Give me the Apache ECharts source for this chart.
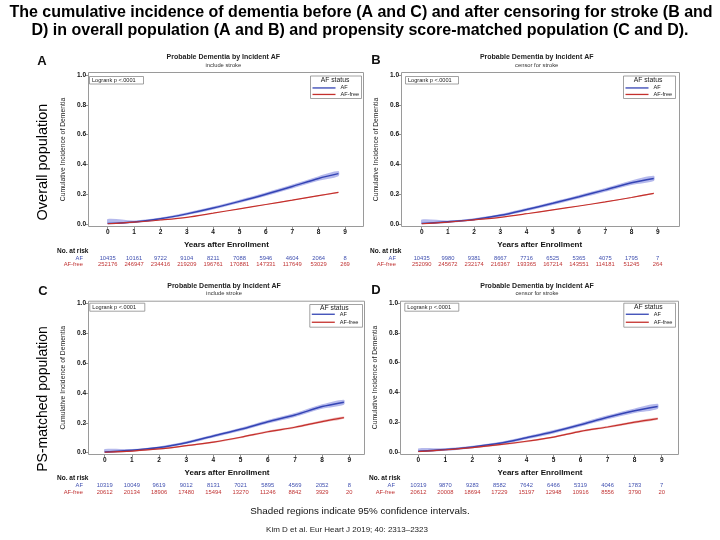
<!DOCTYPE html>
<html><head><meta charset="utf-8">
<script src="https://cdn.jsdelivr.net/npm/echarts@6/dist/echarts.min.js"></script>
<style>html,body{margin:0;padding:0;background:#fff}#c{width:720px;height:540px}</style>
</head><body><div id="c"></div>
<script>
// ---------- data ----------
const yearTicks = [0,1,2,3,4,5,6,7,8,9];
const panelLetters = ['A','B','C','D'];
const panelTitle = 'Probable Dementia by Incident AF';
const panelSubtitles = ['include stroke','censor for stroke','include stroke','censor for stroke'];

const tA = [0, 1, 2, 3, 4, 5, 6, 7, 8, 8.75];
const afA = [0.003, 0.014, 0.035, 0.068, 0.107, 0.152, 0.200, 0.252, 0.306, 0.338];
const afLoA = [0.000, 0.006, 0.027, 0.059, 0.097, 0.141, 0.188, 0.239, 0.291, 0.321];
const afHiA = [0.034, 0.024, 0.043, 0.077, 0.117, 0.163, 0.212, 0.265, 0.321, 0.355];
const freeA = [0.001, 0.012, 0.027, 0.045, 0.073, 0.102, 0.131, 0.160, 0.190, 0.212];
const freeLoA = [0.000, 0.011, 0.026, 0.044, 0.072, 0.100, 0.129, 0.158, 0.187, 0.208];
const freeHiA = [0.003, 0.013, 0.028, 0.046, 0.074, 0.104, 0.133, 0.162, 0.193, 0.216];

const tB = [0, 1, 2, 3, 4, 5, 6, 7, 8, 8.85];
const afB = [0.003, 0.015, 0.031, 0.058, 0.097, 0.139, 0.183, 0.229, 0.277, 0.306];
const afLoB = [0.000, 0.007, 0.023, 0.049, 0.087, 0.128, 0.171, 0.216, 0.262, 0.289];
const afHiB = [0.030, 0.024, 0.039, 0.067, 0.107, 0.150, 0.195, 0.242, 0.292, 0.323];
const freeB = [0.001, 0.013, 0.028, 0.045, 0.069, 0.095, 0.121, 0.148, 0.178, 0.206];
const freeLoB = [0.000, 0.012, 0.027, 0.044, 0.068, 0.093, 0.119, 0.146, 0.175, 0.202];
const freeHiB = [0.003, 0.014, 0.029, 0.046, 0.070, 0.097, 0.123, 0.150, 0.181, 0.210];

const tC = [0, 1, 2, 3, 4, 5, 6, 7, 8, 8.8];
const afC = [0.005, 0.016, 0.034, 0.067, 0.112, 0.156, 0.207, 0.252, 0.308, 0.337];
const afLoC = [0.000, 0.008, 0.026, 0.058, 0.102, 0.145, 0.195, 0.239, 0.293, 0.320];
const afHiC = [0.024, 0.025, 0.042, 0.076, 0.122, 0.167, 0.219, 0.265, 0.323, 0.354];
const freeC = [0.003, 0.011, 0.025, 0.047, 0.071, 0.103, 0.140, 0.170, 0.208, 0.234];
const freeLoC = [0.000, 0.007, 0.021, 0.042, 0.065, 0.097, 0.133, 0.163, 0.200, 0.226];
const freeHiC = [0.009, 0.016, 0.030, 0.052, 0.077, 0.109, 0.147, 0.177, 0.216, 0.242];

const tD = [0, 1, 2, 3, 4, 5, 6, 7, 8, 8.85];
const afD = [0.005, 0.016, 0.034, 0.058, 0.096, 0.136, 0.183, 0.233, 0.277, 0.306];
const afLoD = [0.000, 0.008, 0.026, 0.049, 0.086, 0.125, 0.171, 0.220, 0.262, 0.289];
const afHiD = [0.024, 0.025, 0.042, 0.067, 0.106, 0.147, 0.195, 0.246, 0.292, 0.323];
const freeD = [0.003, 0.015, 0.030, 0.049, 0.072, 0.100, 0.139, 0.168, 0.200, 0.224];
const freeLoD = [0.000, 0.010, 0.025, 0.044, 0.066, 0.094, 0.132, 0.161, 0.192, 0.216];
const freeHiD = [0.009, 0.020, 0.035, 0.054, 0.078, 0.106, 0.146, 0.175, 0.208, 0.232];

const riskAfA = [10435,10161,9722,9104,8211,7088,5946,4604,2064,8];
const riskFreeA = [252176,246947,234416,219209,196761,170881,147331,117649,53029,269];
const riskAfB = [10435,9980,9381,8667,7716,6525,5365,4075,1795,7];
const riskFreeB = [252090,245672,232174,216367,193365,167214,143551,114181,51245,264];
const riskAfC = [10319,10049,9619,9012,8131,7021,5895,4569,2052,8];
const riskFreeC = [20612,20134,18906,17480,15494,13270,11246,8842,3929,20];
const riskAfD = [10319,9870,9283,8582,7642,6466,5319,4046,1783,7];
const riskFreeD = [20612,20008,18694,17229,15197,12948,10916,8556,3790,20];

// ---------- layout / style ----------
const BLUE = '#3444b4', BLUE_BAND = 'rgba(120,128,220,0.55)';
const RED = '#c4302c', RED_BAND = 'rgba(215,100,100,0.45)';
const RISK_BLUE = '#4050b0', RISK_RED = '#c03434';
const FONT = 'Liberation Sans, Arial, sans-serif';

const panels = [
  {t:tA, af:afA, afLo:afLoA, afHi:afHiA, fr:freeA, frLo:freeLoA, frHi:freeHiA, rAf:riskAfA, rFr:riskFreeA,
   grid:{left:107.7, top:75, width:237.3, height:149}, box:[88,72,363,226],
   letter:[42,61], titleY:57, riskY:255, legBox:[310,75.5,361,98], legTitleY:80, legTop:84.7, legGap:0, legLH:6.5, logrank:[89,76,143,83.5]},
  {t:tB, af:afB, afLo:afLoB, afHi:afHiB, fr:freeB, frLo:freeLoB, frHi:freeHiB, rAf:riskAfB, rFr:riskFreeB,
   grid:{left:421.7, top:75, width:236, height:149}, box:[401,72,679,226],
   letter:[376,60], titleY:57, riskY:255, legBox:[623,75.5,675,98], legTitleY:80, legTop:84.7, legGap:0, legLH:6.5, logrank:[405,76,458,83.5]},
  {t:tC, af:afC, afLo:afLoC, afHi:afHiC, fr:freeC, frLo:freeLoC, frHi:freeHiC, rAf:riskAfC, rFr:riskFreeC,
   grid:{left:104.7, top:303, width:244.6, height:149.7}, box:[88,300.7,364,454],
   letter:[43,291], titleY:285.7, riskY:482.5, legBox:[309.3,304,362,326.7], legTitleY:308, legTop:310.5, legGap:0.5, legLH:7.5, logrank:[89.3,302.7,144.3,310.7]},
  {t:tD, af:afD, afLo:afLoD, afHi:afHiD, fr:freeD, frLo:freeLoD, frHi:freeHiD, rAf:riskAfD, rFr:riskFreeD,
   grid:{left:418.3, top:303, width:243.4, height:149}, box:[400,300.7,678,454],
   letter:[376,290], titleY:285.7, riskY:482.5, legBox:[623.3,302.7,675,326.7], legTitleY:307.3, legTop:310.5, legGap:0.5, legLH:7.5, logrank:[404.3,302.7,458.3,310.7]}
];

const pairs = (xs, ys) => xs.map((x, i) => [x, ys[i]]);
const triples = (xs, lo, hi) => xs.map((x, i) => [x, lo[i], hi[i]]);

// confidence band drawn as one smooth polygon through the library's coordinate system
function bandSeries(xi, yi, data, color) {
  return {type:'custom', coordinateSystem:'cartesian2d', xAxisIndex:xi, yAxisIndex:yi, silent:true, z:1,
    data:data, clip:true,
    renderItem:(params, api) => {
      if (params.dataIndex !== 0) return null;
      const upper = data.map(d => api.coord([d[0], d[2]]));
      const lower = data.map(d => api.coord([d[0], d[1]])).reverse();
      return {type:'polygon', shape:{points:upper.concat(lower), smooth:0.3}, style:{fill:color, stroke:null}};
    }};
}

const grids = [], xAxes = [], yAxes = [], series = [], legends = [], graphics = [];

panels.forEach((p, i) => {
  const g = p.grid;
  const gBottom = g.top + g.height;
  grids.push({left:g.left, top:g.top, width:g.width, height:g.height, containLabel:false});
  xAxes.push({gridIndex:i, type:'value', min:0, max:9, interval:1, position:'bottom',
    offset: p.box[3] - gBottom,
    axisLine:{show:true, onZero:false, lineStyle:{color:'#9a9a9a', width:1}},
    axisTick:{show:true, length:3, lineStyle:{color:'#777', width:0.8}},
    axisLabel:{fontSize:6.5, color:'#111', margin:3, fontWeight:'bold', fontFamily:FONT, showMinLabel:true, showMaxLabel:true},
    splitLine:{show:false},
    name:'Years after Enrollment', nameLocation:'middle', nameGap:15,
    nameTextStyle:{fontSize:8, fontWeight:'bold', color:'#111', fontFamily:FONT}});
  xAxes.push({gridIndex:i, type:'value', min:0, max:9, interval:1, position:'bottom',
    offset: p.riskY - gBottom,
    axisLine:{show:false, onZero:false}, axisTick:{show:false}, splitLine:{show:false},
    axisLabel:{margin:0, showMinLabel:true, showMaxLabel:true,
      formatter:(v) => { const k = Math.round(v); return '{a|' + p.rAf[k] + '}\n{b|' + p.rFr[k] + '}'; },
      rich:{a:{color:RISK_BLUE, fontSize:5.8, lineHeight:6.5, fontFamily:FONT},
            b:{color:RISK_RED, fontSize:5.8, lineHeight:6.5, fontFamily:FONT}}}});
  yAxes.push({gridIndex:i, type:'value', min:0, max:1, interval:0.2,
    offset: g.left - p.box[0],
    axisLine:{show:true, onZero:false, lineStyle:{color:'#9a9a9a', width:1}},
    axisTick:{show:true, length:3, lineStyle:{color:'#777', width:0.8}},
    axisLabel:{fontSize:6.5, color:'#111', margin:2, fontWeight:'bold', fontFamily:FONT, formatter:(v)=>v.toFixed(1)},
    splitLine:{show:false},
    name:'Cumulative Incidence of Dementia', nameLocation:'middle', nameGap:21,
    nameTextStyle:{fontSize:6.8, color:'#222', fontFamily:FONT}});

  const xi = i * 2, yi = i;
  const common = {xAxisIndex:xi, yAxisIndex:yi, type:'line', symbol:'none', showSymbol:false, smooth:0.3, silent:true};
  series.push(bandSeries(xi, yi, triples(p.t, p.afLo, p.afHi), BLUE_BAND));
  series.push(bandSeries(xi, yi, triples(p.t, p.frLo, p.frHi), RED_BAND));
  series.push(Object.assign({}, common, {name:'AF', data:pairs(p.t, p.af), color:BLUE, lineStyle:{color:BLUE, width:1.5}, z:3}));
  series.push(Object.assign({}, common, {name:'AF-free', data:pairs(p.t, p.fr), color:RED, lineStyle:{color:RED, width:1.2}, z:3}));

  legends.push({data:['AF','AF-free'], orient:'vertical', left:p.legBox[0] + 2.5, top:p.legTop, padding:0,
    itemGap:p.legGap, itemWidth:23, itemHeight:1.3, icon:'rect', selectedMode:false,
    textStyle:{fontSize:5.6, lineHeight:p.legLH, color:'#222', fontFamily:FONT}});

  const b = p.box;
  graphics.push({type:'rect', shape:{x:b[0]+0.5, y:b[1]+0.5, width:b[2]-b[0], height:b[3]-b[1]}, style:{fill:'none', stroke:'#9a9a9a', lineWidth:1}, z:10});
  const lb = p.legBox;
  graphics.push({type:'rect', shape:{x:lb[0]+0.5, y:lb[1]+0.5, width:lb[2]-lb[0], height:lb[3]-lb[1]}, style:{fill:'none', stroke:'#8a8a8a', lineWidth:0.8}, z:10});
  graphics.push({type:'text', x:lb[0] + 25, y:p.legTitleY, style:{text:'AF status', fontSize:6.8, fill:'#222', fontFamily:FONT, align:'center', verticalAlign:'middle'}, z:10});
  const lr = p.logrank;
  graphics.push({type:'rect', shape:{x:lr[0]+0.5, y:lr[1]+0.5, width:lr[2]-lr[0], height:lr[3]-lr[1]}, style:{fill:'none', stroke:'#8a8a8a', lineWidth:0.8}, z:10});
  graphics.push({type:'text', x:lr[0] + 3, y:(lr[1]+lr[3])/2 + 0.5, style:{text:'Logrank p <.0001', fontSize:5.6, fill:'#222', fontFamily:FONT, align:'left', verticalAlign:'middle'}, z:10});
  graphics.push({type:'text', x:p.letter[0], y:p.letter[1], style:{text:panelLetters[i], fontSize:13, fontWeight:'bold', fill:'#111', fontFamily:FONT, align:'center', verticalAlign:'middle'}});
  const tc = g.left + g.width/2 - 3;
  graphics.push({type:'text', x:tc, y:p.titleY, style:{text:panelTitle, fontSize:7, fontWeight:'bold', fill:'#222', fontFamily:FONT, align:'center', verticalAlign:'middle'}});
  graphics.push({type:'text', x:tc, y:p.titleY + 8, style:{text:panelSubtitles[i], fontSize:5.8, fill:'#333', fontFamily:FONT, align:'center', verticalAlign:'middle'}});
  graphics.push({type:'text', x:b[0] - 31, y:p.riskY - 4, style:{text:'No. at risk', fontSize:6.5, fontWeight:'bold', fill:'#111', fontFamily:FONT, align:'left', verticalAlign:'middle'}});
  graphics.push({type:'text', x:b[0] - 5, y:p.riskY + 3.25, style:{text:'AF', fontSize:5.8, fill:RISK_BLUE, fontFamily:FONT, align:'right', verticalAlign:'middle'}});
  graphics.push({type:'text', x:b[0] - 5, y:p.riskY + 9.75, style:{text:'AF-free', fontSize:5.8, fill:RISK_RED, fontFamily:FONT, align:'right', verticalAlign:'middle'}});
});

graphics.push({type:'text', x:361, y:13, style:{text:'The cumulative incidence of dementia before (A and C) and after censoring for stroke (B and', fontSize:16, fontWeight:'bold', fill:'#000', fontFamily:FONT, align:'center', verticalAlign:'middle'}});
graphics.push({type:'text', x:360, y:31, style:{text:'D) in overall population (A and B) and propensity score-matched population (C and D).', fontSize:16, fontWeight:'bold', fill:'#000', fontFamily:FONT, align:'center', verticalAlign:'middle'}});
graphics.push({type:'text', x:43, y:162, rotation:Math.PI/2, style:{text:'Overall population', fontSize:14.5, fill:'#000', fontFamily:FONT, align:'center', verticalAlign:'middle'}});
graphics.push({type:'text', x:43, y:399, rotation:Math.PI/2, style:{text:'PS-matched population', fontSize:14, fill:'#000', fontFamily:FONT, align:'center', verticalAlign:'middle'}});
graphics.push({type:'text', x:360, y:511, style:{text:'Shaded regions indicate 95% confidence intervals.', fontSize:9.8, fill:'#111', fontFamily:FONT, align:'center', verticalAlign:'middle'}});
graphics.push({type:'text', x:347, y:530, style:{text:'Kim D et al. Eur Heart J 2019; 40: 2313\u20132323', fontSize:8, fill:'#222', fontFamily:FONT, align:'center', verticalAlign:'middle'}});

const chart = echarts.init(document.getElementById('c'), null, {renderer:'canvas'});
chart.setOption({
  backgroundColor:'#fff',
  animation:false,
  textStyle:{fontFamily:FONT},
  grid:grids, xAxis:xAxes, yAxis:yAxes, series:series, legend:legends, graphic:graphics
});
</script></body></html>
